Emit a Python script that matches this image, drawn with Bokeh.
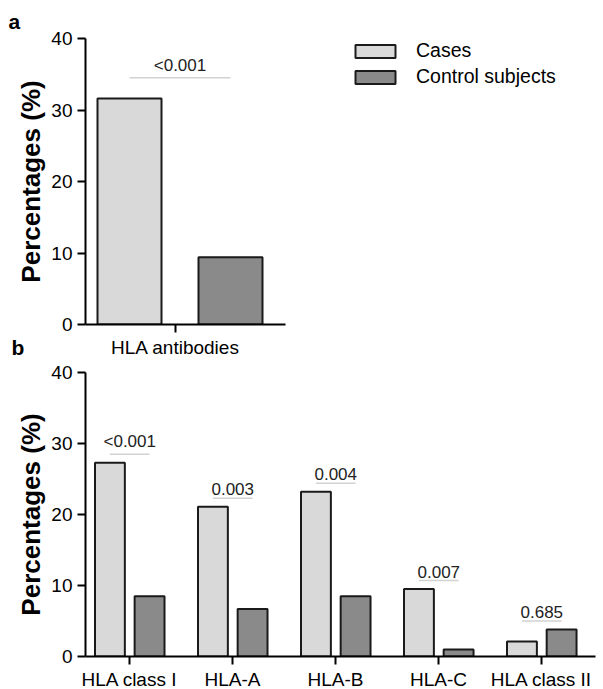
from bokeh.plotting import figure
from bokeh.models import Range1d, FixedTicker, Legend, LegendItem, Title, Label, ColumnDataSource
from bokeh.layouts import column
from bokeh.embed import file_html
from bokeh.resources import INLINE
from bokeh.core.properties import value
from bokeh.transform import dodge

# ---------------- data ----------------
series = ["Cases", "Control subjects"]

a_categories = ["HLA antibodies"]
a_cases = [31.6]
a_controls = [9.4]
a_pvalues = ["<0.001"]

b_categories = ["HLA class I", "HLA-A", "HLA-B", "HLA-C", "HLA class II"]
b_cases = [27.3, 21.1, 23.2, 9.5, 2.1]
b_controls = [8.5, 6.7, 8.5, 1.0, 3.8]
b_pvalues = ["<0.001", "0.003", "0.004", "0.007", "0.685"]

y_ticks = [0, 10, 20, 30, 40]
y_label = "Percentages (%)"
panel_letters = ["a", "b"]

# ---------------- style ----------------
FONT = "Liberation Sans"
LIGHT = "#d9d9d9"
DARK = "#8a8a8a"
EDGE = "#1a1a1a"


def make_panel(categories, cases, controls, pvalues, x_start, x_end, axis_end,
               off_case, off_ctrl, bar_w, pad, frame_h, top_b, bottom_b):
    n = len(categories)
    xs = list(range(n))
    src = ColumnDataSource(dict(
        x=xs, cases=cases, controls=controls, p=pvalues,
        ptop=[max(c, k) + pad for c, k in zip(cases, controls)],
    ))
    p = figure(frame_width=510, frame_height=frame_h,
               x_range=Range1d(x_start, x_end), y_range=Range1d(0, 40),
               output_backend="svg", toolbar_location=None,
               min_border_left=85, min_border_right=5,
               min_border_top=top_b, min_border_bottom=bottom_b)
    p.outline_line_color = None
    p.grid.visible = False
    p.background_fill_color = "white"
    p.border_fill_color = "white"

    r1 = p.vbar(x=dodge("x", off_case), top="cases", width=bar_w, bottom=0,
                source=src, fill_color=LIGHT, line_color=EDGE, line_width=2)
    r2 = p.vbar(x=dodge("x", off_ctrl), top="controls", width=bar_w, bottom=0,
                source=src, fill_color=DARK, line_color=EDGE, line_width=2)
    p.segment(x0=dodge("x", off_case), x1=dodge("x", off_ctrl), y0="ptop", y1="ptop",
              source=src, line_color="#d2d2d2", line_width=1.5)
    p.text(x=dodge("x", (off_case + off_ctrl) / 2), y="ptop", text="p", source=src,
           text_align="center", text_baseline="bottom", y_offset=-3,
           text_font=value(FONT), text_font_size="17px", text_color="#222222")

    for ax in (p.xaxis[0], p.yaxis[0]):
        ax.axis_line_width = 2
        ax.axis_line_color = "black"
        ax.major_tick_line_width = 2
        ax.major_tick_line_color = "black"
        ax.major_tick_in = 0
        ax.major_tick_out = 8
        ax.minor_tick_line_color = None
        ax.major_label_text_font = FONT
        ax.major_label_text_color = "black"

    xa = p.xaxis[0]
    xa.ticker = FixedTicker(ticks=xs)
    xa.major_label_overrides = {i: c for i, c in zip(xs, categories)}
    xa.bounds = (x_start, axis_end)
    xa.major_label_text_font_size = "19px"
    xa.major_label_standoff = 4

    ya = p.yaxis[0]
    ya.ticker = FixedTicker(ticks=y_ticks)
    ya.major_label_text_font_size = "19px"
    ya.major_label_standoff = 5
    ya.axis_label = y_label
    ya.axis_label_text_font = FONT
    ya.axis_label_text_font_style = "bold"
    ya.axis_label_text_font_size = "26px"
    ya.axis_label_text_color = "black"
    ya.axis_label_standoff = 2
    return p, r1, r2


pa, ra1, ra2 = make_panel(a_categories, a_cases, a_controls, a_pvalues,
                          -0.9, 4.2, 1.1, -0.46, 0.55, 0.64, 2.9, 286, 38, 34)
pb, rb1, rb2 = make_panel(b_categories, b_cases, b_controls, b_pvalues,
                          -0.427, 4.524, 4.524, -0.19, 0.195, 0.29, 1.2, 284, 12, 33)

legend = Legend(items=[LegendItem(label=series[0], renderers=[ra1]),
                       LegendItem(label=series[1], renderers=[ra2])],
                location=(265, 236), orientation="vertical",
                glyph_width=50, glyph_height=16, label_height=20, spacing=3,
                label_standoff=16, padding=0, margin=0,
                border_line_color=None, background_fill_alpha=0,
                label_text_font=FONT, label_text_font_size="19.5px",
                label_text_color="black")
pa.add_layout(legend)

# panel letters
pa.add_layout(Title(text=panel_letters[0], align="left", offset=-77, standoff=12,
                    text_font=FONT, text_font_style="bold", text_font_size="21px",
                    text_color="black"), "above")
# letter "b" sits in panel a's left side panel (not clipped), placed below its frame
pa.add_layout(Label(x=-1.64, y=-1.65, x_units="data", y_units="data", text=panel_letters[1],
                    text_font=FONT, text_font_style="bold", text_font_size="21px",
                    text_baseline="top", text_color="black"), "left")

layout = column(pa, pb, spacing=0)
open("out.html", "w").write(file_html(layout, INLINE))
